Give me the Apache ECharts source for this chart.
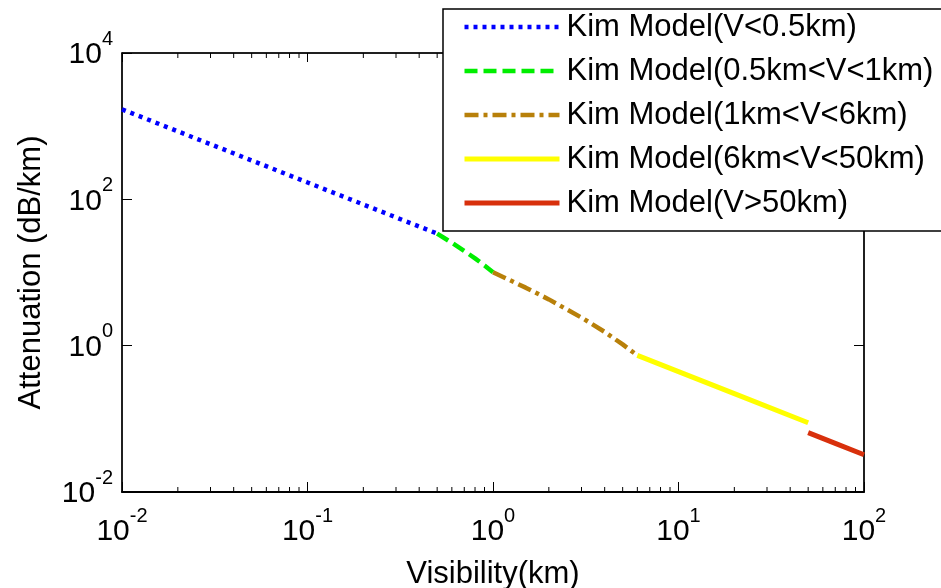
<!DOCTYPE html>
<html>
<head>
<meta charset="utf-8">
<script src="https://cdn.jsdelivr.net/npm/echarts@6.0.0/dist/echarts.min.js"></script>
<style>
  html, body { margin: 0; padding: 0; background: #fff; }
  #main { width: 941px; height: 588px; }
</style>
</head>
<body>
<div id="main"></div>
<script>
// values (visibility km, attenuation dB/km)
var seriesNames = [
  'Kim Model(V<0.5km)',
  'Kim Model(0.5km<V<1km)',
  'Kim Model(1km<V<6km)',
  'Kim Model(6km<V<50km)',
  'Kim Model(V>50km)'
];
var fogV   = [0.01, 0.02, 0.05, 0.1, 0.2, 0.5];
var fogA   = [1698, 849, 340, 170, 85, 34];
var hazeV  = [0.5, 0.6, 0.7, 0.8, 0.9, 1.0];
var hazeA  = [34, 25.5, 19.7, 15.6, 12.5, 10.1];
var mistV  = [1, 1.5, 2, 3, 4, 5, 6];
var mistA  = [10.1, 6.21, 4.29, 2.42, 1.54, 1.04, 0.736];
var clearV = [6, 10, 20, 50];
var clearA = [0.736, 0.442, 0.221, 0.0883];
var veryV  = [50, 70, 100];
var veryA  = [0.0647, 0.0462, 0.0323];

var FONT = '"Liberation Sans", Arial, sans-serif';
var myChart = echarts.init(document.getElementById('main'));

function pairs(xs, ys) {
  var out = [];
  for (var i = 0; i < xs.length; i++) out.push([xs[i], ys[i]]);
  return out;
}

// minor tick positions on the log x axis (2..9 in every decade)
var minorTicks = [];
for (var d = -2; d < 2; d++) {
  for (var m = 2; m <= 9; m++) minorTicks.push([m * Math.pow(10, d), 1]);
}

function powLabel(v) {
  var e = Math.round(Math.log10(v));
  return '{b|10}{s|' + e + '}';
}
var richLab = {
  b: { fontSize: 30, fontFamily: FONT, color: '#000', lineHeight: 30, verticalAlign: 'bottom' },
  s: { fontSize: 20, fontFamily: FONT, color: '#000', lineHeight: 20, padding: [0, 0, 21, 0], verticalAlign: 'bottom' }
};

var lineTypes = [[4, 5], [13, 6], [14, 5, 4, 5], 'solid', 'solid'];
var colors = ['#0000ff', '#00ee00', '#b8800a', '#ffff00', '#d8300c'];
var widths = [4.5, 4.5, 4.5, 5, 5];
var datas = [pairs(fogV, fogA), pairs(hazeV, hazeA), pairs(mistV, mistA), pairs(clearV, clearA), pairs(veryV, veryA)];

var series = [];
for (var i = 0; i < seriesNames.length; i++) {
  series.push({
    name: seriesNames[i],
    type: 'line',
    data: datas[i],
    symbol: 'none',
    showSymbol: false,
    color: colors[i],
    lineStyle: { color: colors[i], width: widths[i], type: lineTypes[i], cap: 'butt' },
    z: 3
  });
}
series.push({
  type: 'custom',
  xAxisIndex: 0,
  yAxisIndex: 0,
  data: minorTicks,
  silent: true,
  z: 4,
  renderItem: function (params, api) {
    var x = api.coord([api.value(0), 1])[0];
    var cs = params.coordSys;
    var b = cs.y + cs.height, t = cs.y;
    return {
      type: 'group',
      children: [
        { type: 'line', shape: { x1: x, y1: b, x2: x, y2: b - 5 }, style: { stroke: '#000', lineWidth: 1 } },
        { type: 'line', shape: { x1: x, y1: t, x2: x, y2: t + 5 }, style: { stroke: '#000', lineWidth: 1 } }
      ]
    };
  }
});

var option = {
  animation: false,
  backgroundColor: '#fff',
  grid: {
    left: 122, right: 77, top: 53, bottom: 96,
    outerBoundsMode: 'none', containLabel: false,
    show: true, borderColor: '#000', borderWidth: 1, backgroundColor: 'transparent'
  },
  legend: {
    data: seriesNames,
    orient: 'vertical',
    left: 443,
    top: 9,
    padding: [2, 10, 12, 19],
    itemWidth: 95,
    itemHeight: 14,
    itemGap: 12,
    backgroundColor: '#fff',
    borderColor: '#000',
    borderWidth: 1.5,
    borderRadius: 0,
    itemStyle: { opacity: 0, borderWidth: 0 },
    lineStyle: { width: 'inherit' },
    textStyle: { fontSize: 31, fontFamily: FONT, color: '#000', lineHeight: 32, padding: [0, 0, 0, 2] },
    z: 10
  },
  xAxis: [{
    type: 'log',
    logBase: 10,
    min: 0.01,
    max: 100,
    interval: 1,
    position: 'bottom',
    name: 'Visibility(km)',
    nameLocation: 'middle',
    nameGap: 67,
    nameTextStyle: { fontSize: 31, fontFamily: FONT, color: '#000' },
    axisLine: { show: true, lineStyle: { color: '#000', width: 2 } },
    axisTick: { show: true, inside: true, length: 10, lineStyle: { color: '#000', width: 1 } },
    axisLabel: { formatter: powLabel, rich: richLab, margin: 25, color: '#000' },
    splitLine: { show: false }
  }, {
    type: 'log',
    logBase: 10,
    min: 0.01,
    max: 100,
    interval: 1,
    position: 'top',
    axisLine: { show: true, lineStyle: { color: '#000', width: 1.5 } },
    axisTick: { show: true, inside: true, length: 9, lineStyle: { color: '#000', width: 1 } },
    axisLabel: { show: false },
    splitLine: { show: false }
  }],
  yAxis: [{
    type: 'log',
    logBase: 10,
    min: 0.01,
    max: 10000,
    interval: 2,
    position: 'left',
    name: 'Attenuation (dB/km)',
    nameLocation: 'middle',
    nameRotate: 90,
    nameGap: 75,
    nameTextStyle: { fontSize: 31, fontFamily: FONT, color: '#000' },
    axisLine: { show: true, lineStyle: { color: '#000', width: 1.5 } },
    axisTick: { show: true, inside: true, length: 10, lineStyle: { color: '#000', width: 1 } },
    axisLabel: { formatter: powLabel, rich: richLab, margin: 9, padding: [4, 0, 0, 0], color: '#000' },
    splitLine: { show: false }
  }, {
    type: 'log',
    logBase: 10,
    min: 0.01,
    max: 10000,
    interval: 2,
    position: 'right',
    axisLine: { show: true, lineStyle: { color: '#000', width: 1.5 } },
    axisTick: { show: true, inside: true, length: 10, lineStyle: { color: '#000', width: 1 } },
    axisLabel: { show: false },
    splitLine: { show: false }
  }],
  series: series
};
myChart.setOption(option);
</script>
</body>
</html>
